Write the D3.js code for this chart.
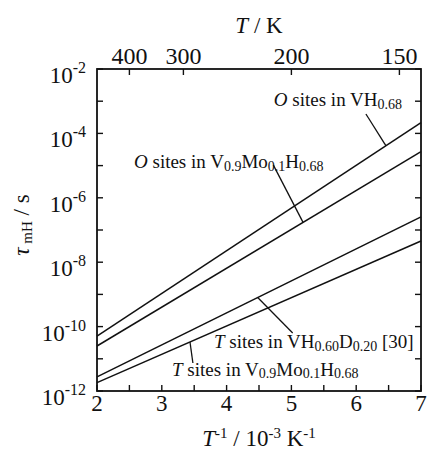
<!DOCTYPE html>
<html>
<head>
<meta charset="utf-8">
<script src="https://cdn.jsdelivr.net/npm/d3@7"></script>
<style>
  html, body { margin: 0; padding: 0; background: #fff; }
  svg { display: block; }
</style>
</head>
<body>
<svg id="chart" width="428" height="450" font-family="'Liberation Serif', 'DejaVu Serif', serif"></svg>
<script>
// ---- data ----
const invT = [2, 7];                       // T^-1 / 10^-3 K^-1
const tauO_VH   = [5.1e-11, 2.15e-4];      // O sites in VH0.68
const tauO_VMo  = [2.5e-11, 2.7e-5];       // O sites in V0.9Mo0.1H0.68
const tauT_VHD  = [2.75e-12, 2.57e-7];     // T sites in VH0.60D0.20 [30]
const tauT_VMo  = [1.82e-12, 4.57e-8];     // T sites in V0.9Mo0.1H0.68

const xTicksMajor = [2, 3, 4, 5, 6, 7];
const xTicksMinor = [2.5, 3.5, 4.5, 5.5, 6.5];
const yTickExps   = [-2, -3, -4, -5, -6, -7, -8, -9, -10, -11, -12];
const yLabelExps  = [-2, -4, -6, -8, -10, -12];
const topTempTicks = [400, 300, 200, 150]; // T / K

// leader lines [x, tau] pairs
const leaderO_VH  = [[6.15, 4.0e-4], [6.46, 4.1e-5]];
const leaderO_VMo = [[4.72, 1.05e-5], [5.18, 1.72e-7]];
const leaderT_VHD = [[4.48, 8.0e-10], [5.02, 6.3e-11]];
const leaderT_VMo = [[3.435, 3.33e-11], [3.48, 7.4e-12]];

// ---- layout ----
const L = 97, R = 421, T = 69, B = 391;
const svg = d3.select("#chart");
const x = d3.scaleLinear().domain([2, 7]).range([L, R]);
const y = d3.scaleLog().domain([1e-12, 1e-2]).range([B, T]);
const TICK = 6;
const INK = "#111";

// ticks
const g = svg.append("g").attr("stroke", INK).attr("stroke-width", 1.4);
yTickExps.forEach(e => {
  const yy = y(Math.pow(10, e));
  g.append("line").attr("x1", L).attr("x2", L + TICK).attr("y1", yy).attr("y2", yy);
  g.append("line").attr("x1", R).attr("x2", R - TICK).attr("y1", yy).attr("y2", yy);
});
xTicksMajor.concat(xTicksMinor).forEach(v => {
  const xx = x(v);
  g.append("line").attr("x1", xx).attr("x2", xx).attr("y1", B).attr("y2", B - TICK);
});
topTempTicks.forEach(t => {
  const xx = x(1000 / t);
  g.append("line").attr("x1", xx).attr("x2", xx).attr("y1", T).attr("y2", T + TICK);
});

// frame
svg.append("rect").attr("x", L).attr("y", T).attr("width", R - L).attr("height", B - T)
  .attr("fill", "none").attr("stroke", INK).attr("stroke-width", 1.8);

// series lines
const lineGen = d3.line().x(d => x(d[0])).y(d => y(d[1]));
[tauO_VH, tauO_VMo, tauT_VHD, tauT_VMo].forEach(s => {
  svg.append("path").datum(invT.map((v, i) => [v, s[i]]))
    .attr("d", lineGen).attr("fill", "none").attr("stroke", INK).attr("stroke-width", 1.5);
});
[leaderO_VH, leaderO_VMo, leaderT_VHD, leaderT_VMo].forEach(s => {
  svg.append("path").datum(s)
    .attr("d", lineGen).attr("fill", "none").attr("stroke", INK).attr("stroke-width", 1.3);
});

function txt(xp, yp, anchor, size) {
  return svg.append("text").attr("x", xp).attr("y", yp).attr("text-anchor", anchor)
    .attr("font-size", size).attr("fill", INK);
}

// bottom tick labels
xTicksMajor.forEach(v => { txt(x(v), 411, "middle", 23).text(v); });
// top tick labels
topTempTicks.forEach(t => { txt(x(1000 / t), 64, "middle", 24).text(t); });
// y tick labels
yLabelExps.forEach(e => {
  const t = txt(86, y(Math.pow(10, e)) + 14, "end", 23);
  t.append("tspan").text("10");
  t.append("tspan").attr("font-size", 16).attr("dy", -10).text("-" + Math.abs(e));
});

// axis titles
const tt = txt((L + R) / 2, 33, "middle", 23);
tt.append("tspan").attr("font-style", "italic").text("T");
tt.append("tspan").text(" / K");

const xt = txt((L + R) / 2, 446, "middle", 23);
xt.append("tspan").attr("font-style", "italic").text("T");
xt.append("tspan").attr("font-size", 15).attr("dy", -8).text("-1");
xt.append("tspan").attr("dy", 8).text(" / 10");
xt.append("tspan").attr("font-size", 15).attr("dy", -8).text("-3");
xt.append("tspan").attr("dy", 8).text(" K");
xt.append("tspan").attr("font-size", 15).attr("dy", -8).text("-1");

const yt = svg.append("text").attr("transform", `translate(29,${(T + B) / 2 - 5}) rotate(-90)`)
  .attr("text-anchor", "middle").attr("font-size", 23).attr("fill", INK);
yt.append("tspan").attr("font-style", "italic").text("τ");
yt.append("tspan").attr("font-size", 15).attr("dy", 3).text(" mH");
yt.append("tspan").attr("dy", -3).text(" / s");

// annotation labels
function label(xp, yp, anchor, italic, parts) {
  const t = txt(xp, yp, anchor, 19);
  t.append("tspan").attr("font-style", "italic").text(italic);
  let sub = false;
  parts.forEach(p => {
    if (p.sub) {
      t.append("tspan").attr("font-size", 14).attr("dy", sub ? 0 : 2.5).text(p.sub);
      sub = true;
    } else {
      t.append("tspan").attr("dy", sub ? -2.5 : 0).text(p.t);
      sub = false;
    }
  });
}
label(402, 106, "end", "O", [{t: " sites in VH"}, {sub: "0.68"}]);
label(134, 168, "start", "O", [{t: " sites in V"}, {sub: "0.9"}, {t: "Mo"}, {sub: "0.1"}, {t: "H"}, {sub: "0.68"}]);
label(214, 348, "start", "T", [{t: " sites in VH"}, {sub: "0.60"}, {t: "D"}, {sub: "0.20"}, {t: " [30]"}]);
label(172, 375.5, "start", "T", [{t: " sites in V"}, {sub: "0.9"}, {t: "Mo"}, {sub: "0.1"}, {t: "H"}, {sub: "0.68"}]);
</script>
</body>
</html>
